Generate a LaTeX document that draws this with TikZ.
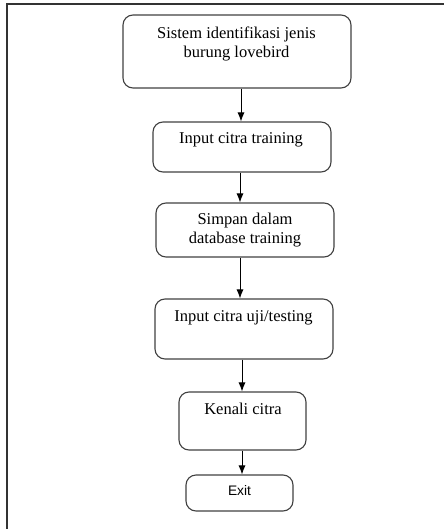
\documentclass[tikz,border=0pt]{standalone}
\usepackage{fontspec}
\setmainfont{Liberation Serif}
\newfontfamily\exitfont{Liberation Sans}
\usetikzlibrary{arrows.meta}
\begin{document}
\begin{tikzpicture}[x=1pt,y=-1pt,
  box/.style={draw=black!75, line width=1.1pt, rounded corners=10pt, inner sep=0pt},
  lbl/.style={inner sep=0pt, anchor=base, align=center, font=\fontsize{16.5}{19}\selectfont},
  arr/.style={draw=black, line width=0.9pt, -{Latex[length=9pt,width=7pt]}}]
\useasboundingbox (0,0) rectangle (444,529);
% outer frame
\coordinate (fl) at (7,529);
\coordinate (ftl) at (7,4);
\coordinate (fr) at (444,4);
\draw[black!80, line width=1.4pt] (fl) -- (ftl) -- (fr);
% boxes
\node[box, minimum width=228pt, minimum height=73pt] (b1) at (237,51.5) {};
\node[box, minimum width=178pt, minimum height=50pt] (b2) at (242,147) {};
\node[box, minimum width=178pt, minimum height=54pt] (b3) at (245,230) {};
\node[box, minimum width=178pt, minimum height=60pt] (b4) at (244,329) {};
\node[box, minimum width=127pt, minimum height=58pt] (b5) at (242.5,421) {};
\node[box, minimum width=107pt, minimum height=36pt] (b6) at (239.5,493) {};
% labels
\node[lbl] (t1) at (236.5,58) {Sistem identifikasi jenis\\burung lovebird};
\node[lbl] (t2) at (241,144) {Input citra training};
\node[lbl] (t3) at (245,243) {Simpan dalam\\database training};
\node[lbl] (t4) at (243.5,321) {Input citra uji/testing};
\node[lbl] (t5) at (243,414) {Kenali citra};
\node[inner sep=0pt, anchor=base, font=\exitfont\fontsize{13.8}{16}\selectfont] (t6) at (239.5,495) {Exit};
% arrow columns
\coordinate (a1) at (241,0);
\coordinate (a2) at (240,0);
\coordinate (a3) at (240,0);
\coordinate (a4) at (242,0);
\coordinate (a5) at (242,0);
\draw[arr] (b1.south -| a1) -- (b2.north -| a1);
\draw[arr] (b2.south -| a2) -- (b3.north -| a2);
\draw[arr] (b3.south -| a3) -- (b4.north -| a3);
\draw[arr] (b4.south -| a4) -- (b5.north -| a4);
\draw[arr] (b5.south -| a5) -- (b6.north -| a5);
\end{tikzpicture}
\end{document}
